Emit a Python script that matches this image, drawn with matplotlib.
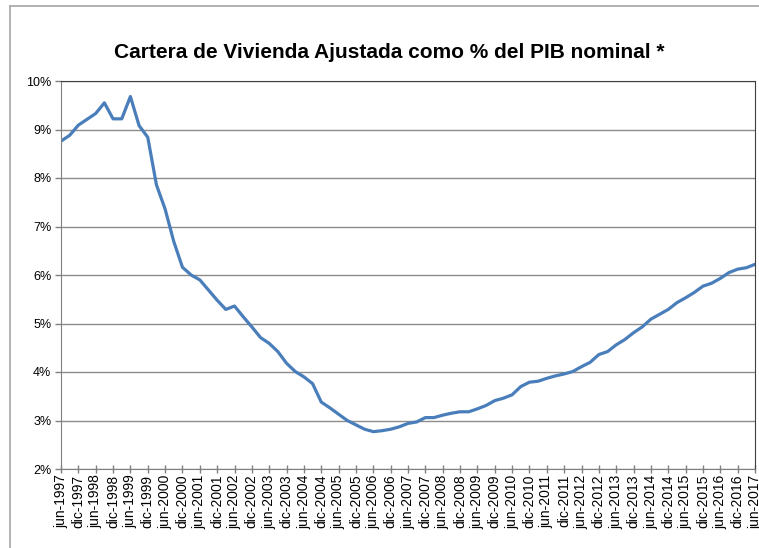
import matplotlib
matplotlib.use("Agg")
import matplotlib.pyplot as plt
from matplotlib.lines import Line2D
from matplotlib.ticker import FuncFormatter

plt.rcParams['font.family'] = ['Liberation Sans', 'DejaVu Sans']

# cartera de vivienda ajustada / PIB nominal (%), trimestral jun-1997 .. jun-2017
cartera = [8.76, 8.88, 9.09, 9.21, 9.33, 9.55, 9.22, 9.22, 9.68, 9.08,
           8.84, 7.86, 7.36, 6.69, 6.16, 6.00, 5.90, 5.69, 5.48, 5.29,
           5.36, 5.14, 4.93, 4.71, 4.59, 4.42, 4.18, 4.01, 3.90, 3.76,
           3.38, 3.26, 3.13, 3.00, 2.91, 2.82, 2.77, 2.79, 2.82, 2.87,
           2.94, 2.97, 3.06, 3.06, 3.11, 3.15, 3.18, 3.18, 3.24, 3.31,
           3.41, 3.46, 3.53, 3.70, 3.79, 3.81, 3.87, 3.92, 3.96, 4.01,
           4.11, 4.20, 4.36, 4.42, 4.56, 4.67, 4.81, 4.93, 5.09, 5.19,
           5.29, 5.43, 5.53, 5.64, 5.77, 5.83, 5.93, 6.05, 6.12, 6.15,
           6.22]
anios = list(range(1997, 2018))
etiquetas = []
for a in anios:
    etiquetas.append("jun-%d" % a)
    if a < 2017:
        etiquetas.append("dic-%d" % a)

x = list(range(len(cartera)))

fig = plt.figure(figsize=(7.59, 5.48), dpi=100)
ax = fig.add_axes([61 / 759, 1 - 469 / 548, (755 - 61) / 759, (469 - 81) / 548])

ax.plot(x, cartera, color="#4a7ebb", linewidth=2.3, solid_joinstyle="round")

ax.set_xlim(0, len(cartera) - 1)
ax.set_ylim(2, 10)
ax.set_yticks(range(2, 11))
ax.yaxis.set_major_formatter(FuncFormatter(lambda v, p: "%d%%" % v))
ax.set_xticks(range(0, len(cartera), 2))
ax.set_xticklabels(etiquetas, rotation=90)

ax.grid(axis="y", color="#8c8c8c", linewidth=1.0)
ax.set_axisbelow(True)
ax.tick_params(axis="y", direction="out", length=4, width=1, color="#808080",
               labelsize=9, pad=3)
ax.tick_params(axis="x", direction="inout", length=6, width=1, color="#808080",
               labelsize=10, pad=1)
for lado in ["left", "bottom"]:
    ax.spines[lado].set_color("#808080")
for lado in ["top", "right"]:
    ax.spines[lado].set_color("#404040")

fig.text(389 / 759, 1 - 52 / 548, "Cartera de Vivienda Ajustada como % del PIB nominal *",
         ha="center", va="center", fontsize=15, fontweight="bold")

# marco exterior del grafico
fig.add_artist(Line2D([10 / 759, 1], [1 - 6 / 548] * 2, color="#a6a6a6", linewidth=1.2,
                      transform=fig.transFigure))
fig.add_artist(Line2D([10 / 759] * 2, [0, 1 - 6 / 548], color="#a6a6a6", linewidth=1.2,
                      transform=fig.transFigure))

fig.savefig("out.png", dpi=100)
